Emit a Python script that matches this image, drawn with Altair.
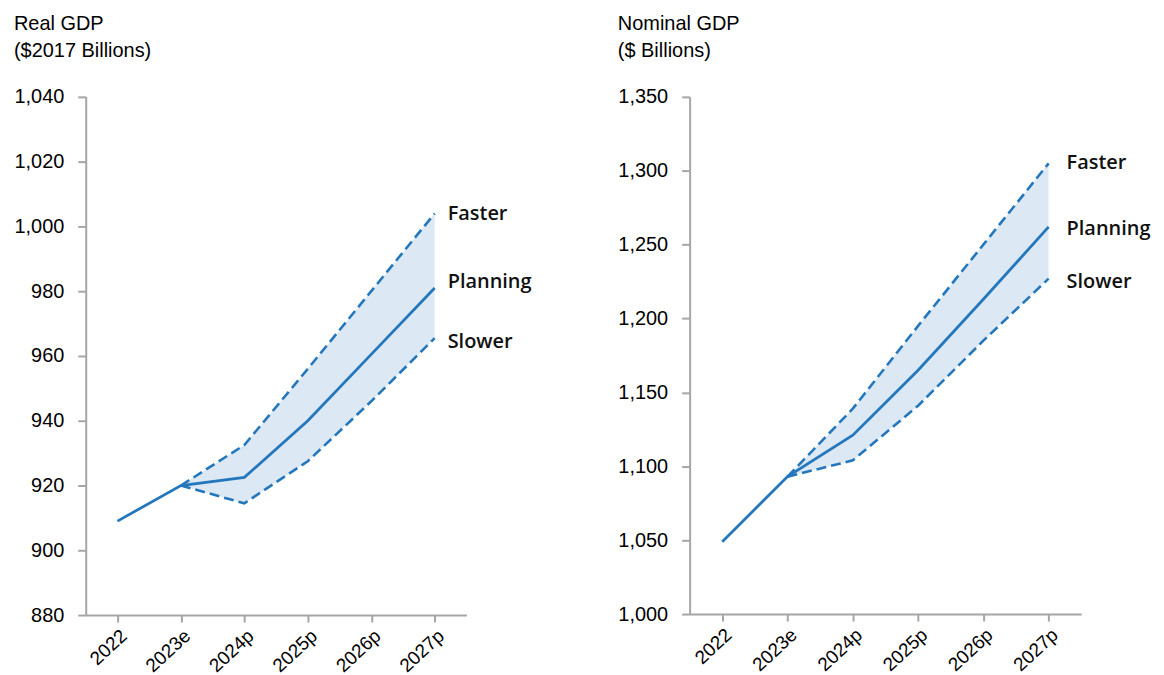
import altair as alt
import pandas as pd

years = ["2022", "2023e", "2024p", "2025p", "2026p", "2027p"]

real_planning = [909.0, 920.0, 922.5, 940.0, 960.5, 981.0]
real_faster = [920.0, 932.5, 956.0, 980.0, 1004.0]
real_slower = [920.0, 914.5, 927.5, 946.0, 965.5]
real_ticks = [880, 900, 920, 940, 960, 980, 1000, 1020, 1040]

nom_planning = [1049.0, 1093.0, 1121.0, 1165.0, 1213.0, 1262.0]
nom_faster = [1093.0, 1139.0, 1195.0, 1250.0, 1305.0]
nom_slower = [1093.0, 1104.0, 1141.0, 1185.0, 1227.0]
nom_ticks = [1000, 1050, 1100, 1150, 1200, 1250, 1300, 1350]

scenario_names = ["Faster", "Planning", "Slower"]

LINE = "#2577BC"
FILL = "#DCE9F5"
AXIS = "#A6A6A6"
AXFONT = "Liberation Sans Narrow, Liberation Sans, sans-serif"
LABELFONT = "Open Sans, Lato, sans-serif"


def panel(title_lines, planning, faster, slower, ticks, w, h, dys, dx):
    df_plan = pd.DataFrame({"year": years, "value": planning})
    df_band = pd.DataFrame({"year": years[1:], "faster": faster, "slower": slower})
    df_lab = pd.DataFrame({
        "year": [years[-1]] * 3,
        "value": [faster[-1], planning[-1], slower[-1]],
        "label": scenario_names,
    })

    x = alt.X(
        "year:O",
        sort=years,
        scale=alt.Scale(type="point", padding=0.5),
        axis=alt.Axis(
            title=None, labelAngle=-43, labelFont=AXFONT, labelFontSize=19,
            labelColor="black", labelPadding=4, tickSize=7,
            labelAlign="right", labelBaseline="top",
        ),
    )
    yscale = alt.Scale(domain=[ticks[0], ticks[-1]], nice=False, zero=False)
    yaxis = alt.Axis(
        title=None, values=ticks, format=",.0f", labelFont=AXFONT, labelFontSize=20,
        labelColor="black", labelPadding=14, tickSize=8,
    )

    band = alt.Chart(df_band).mark_area(color=FILL, opacity=1).encode(
        x=x, y=alt.Y("faster:Q", scale=yscale, axis=yaxis), y2="slower:Q"
    )
    fast = alt.Chart(df_band).mark_line(
        color=LINE, strokeWidth=2.6, strokeDash=[10, 5]
    ).encode(x=x, y=alt.Y("faster:Q", scale=yscale))
    slow = alt.Chart(df_band).mark_line(
        color=LINE, strokeWidth=2.6, strokeDash=[10, 5]
    ).encode(x=x, y=alt.Y("slower:Q", scale=yscale))
    plan = alt.Chart(df_plan).mark_line(color=LINE, strokeWidth=2.8).encode(
        x=x, y=alt.Y("value:Q", scale=yscale)
    )

    texts = []
    for name, dy in zip(scenario_names, dys):
        texts.append(
            alt.Chart(df_lab)
            .transform_filter(alt.datum.label == name)
            .mark_text(
                align="left", baseline="middle", dx=dx, dy=dy, font=LABELFONT,
                fontSize=20, fontWeight=600, color="#111111",
            )
            .encode(x=x, y=alt.Y("value:Q", scale=yscale), text="label:N")
        )

    return alt.layer(band, fast, slow, plan, *texts).properties(
        width=w,
        height=h,
        title=alt.TitleParams(
            text=title_lines, anchor="start", font="Liberation Sans",
            fontSize=20, fontWeight="normal", color="black", lineHeight=27,
            offset=26,
        ),
    )


left = panel(["Real GDP", "($2017 Billions)"], real_planning, real_faster,
             real_slower, real_ticks, 382, 520, [1, -6, 4], 13)
right = panel(["Nominal GDP", "($ Billions)"], nom_planning, nom_faster,
              nom_slower, nom_ticks, 393, 519, [0, 2, 3], 18)

chart = (
    alt.hconcat(left, right, spacing=85)
    .configure_view(stroke=None)
    .configure_axis(
        domainColor=AXIS, domainWidth=2, tickColor=AXIS, tickWidth=2, grid=False
    )
)

chart.save("out.html", embed_options={"renderer": "svg", "actions": False})
